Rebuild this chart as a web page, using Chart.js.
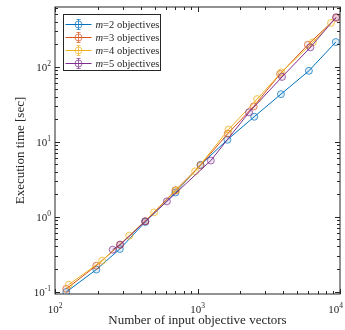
<!DOCTYPE html>
<html>
<head>
<meta charset="utf-8">
<script src="https://cdn.jsdelivr.net/npm/chart.js@4/dist/chart.umd.min.js"></script>
<style>
    body { margin: 0; background: #fff; }
</style>
</head>
<body>
<canvas id="timing" width="345" height="330"></canvas>
<script>
// input sizes and run times, one pair per number of objectives
const xM2 = [120, 195, 285, 430, 700, 1050, 1620, 2500, 3850, 6050, 9350];
const yM2 = [0.099, 0.197, 0.37, 0.85, 2.1, 4.9, 10.6, 21.5, 43, 88, 213];
const xM3 = [120, 195, 285, 430, 700, 1050, 1630, 2480, 3800, 5950, 9400];
const yM3 = [0.109, 0.222, 0.42, 0.87, 2.25, 4.85, 12.8, 29.5, 80, 196, 447];
const xM4 = [125, 214, 332, 496, 708, 962, 1650, 2620, 3880, 6450, 8650];
const yM4 = [0.124, 0.259, 0.558, 1.14, 2.24, 4.02, 14.5, 37, 84, 211, 383];
const xM5 = [254, 287, 430, 610, 1240, 2300, 3920, 6200, 9400];
const yM5 = [0.363, 0.424, 0.866, 1.6, 5.6, 24.6, 73, 181, 457];

const labels = ['m=2 objectives', 'm=3 objectives', 'm=4 objectives', 'm=5 objectives'];
const colors = ['#0072BD', '#D95319', '#EDB120', '#7E2F8E'];
const xTickExp = [2, 3, 4];
const yTickExp = [-1, 0, 1, 2];

const axisColor = '#262626';
const serif = '"Liberation Serif", "DejaVu Serif", serif';

function fade(hex, a) {
    const n = parseInt(hex.slice(1), 16);
    return 'rgba(' + (n >> 16) + ',' + ((n >> 8) & 255) + ',' + (n & 255) + ',' + a + ')';
}

const series = [[xM2, yM2], [xM3, yM3], [xM4, yM4], [xM5, yM5]];

// box, inward ticks on all four sides, 10^n labels
const frame = {
    id: 'frame',
    afterDraw(chart) {
        const {ctx, chartArea: a, scales: {x, y}} = chart;
        ctx.save();
        ctx.strokeStyle = axisColor;
        ctx.lineWidth = 1;
        ctx.strokeRect(a.left, a.top, a.right - a.left, a.bottom - a.top);
        ctx.beginPath();
        for (let e = 1; e <= 4; e++) {
            for (let k = 1; k <= 9; k++) {
                const v = k * Math.pow(10, e);
                if (v < x.min || v > x.max) continue;
                const px = Math.round(x.getPixelForValue(v)) + 0.5;
                const len = k === 1 ? 5 : 3;
                ctx.moveTo(px, a.bottom); ctx.lineTo(px, a.bottom - len);
                ctx.moveTo(px, a.top); ctx.lineTo(px, a.top + len);
            }
        }
        for (let e = -2; e <= 2; e++) {
            for (let k = 1; k <= 9; k++) {
                const v = k * Math.pow(10, e);
                if (v < y.min || v > y.max) continue;
                const py = Math.round(y.getPixelForValue(v)) + 0.5;
                const len = k === 1 ? 5 : 3;
                ctx.moveTo(a.left, py); ctx.lineTo(a.left + len, py);
                ctx.moveTo(a.right, py); ctx.lineTo(a.right - len, py);
            }
        }
        ctx.stroke();

        ctx.fillStyle = axisColor;
        ctx.textBaseline = 'alphabetic';
        const base = '11px ' + serif, sup = '7.5px ' + serif;
        xTickExp.forEach(e => {
            const px = x.getPixelForValue(Math.pow(10, e));
            ctx.font = base; const w1 = ctx.measureText('10').width;
            ctx.font = sup; const w2 = ctx.measureText(String(e)).width;
            // keep the last label inside the canvas
            const left = Math.min(px - (w1 + w2) / 2, chart.width - 2 - w1 - w2);
            ctx.font = base; ctx.textAlign = 'left';
            ctx.fillText('10', left, a.bottom + 19);
            ctx.font = sup;
            ctx.fillText(String(e), left + w1, a.bottom + 14);
        });
        yTickExp.forEach(e => {
            const py = y.getPixelForValue(Math.pow(10, e));
            ctx.font = sup; const w2 = ctx.measureText(String(e)).width;
            const right = a.left - 4;
            ctx.textAlign = 'left';
            ctx.fillText(String(e), right - w2, py - 0.5);
            ctx.font = base; ctx.textAlign = 'right';
            ctx.fillText('10', right - w2, py + 4);
        });
        ctx.restore();
    }
};

// legend in the upper left corner, errorbar style icons
const legendBox = {
    id: 'legendBox',
    afterDraw(chart) {
        const {ctx, chartArea: a} = chart;
        const left = a.left + 8.5, top = a.top + 7.5, w = 97, h = 56;
        ctx.save();
        ctx.fillStyle = '#fff';
        ctx.fillRect(left, top, w, h);
        ctx.strokeStyle = axisColor;
        ctx.lineWidth = 1;
        ctx.strokeRect(left, top, w, h);
        chart.data.datasets.forEach((ds, i) => {
            const cy = Math.round(top + 9 + i * 13) + 0.5;
            const cx = left + 15;
            ctx.strokeStyle = ds.borderColor;
            ctx.lineWidth = 1;
            ctx.beginPath();
            ctx.moveTo(left + 2, cy); ctx.lineTo(left + 28, cy);
            ctx.stroke();
            ctx.strokeStyle = ds.pointBorderColor;
            ctx.beginPath();
            ctx.moveTo(cx, cy - 5); ctx.lineTo(cx, cy + 5);
            ctx.moveTo(cx - 2, cy - 5); ctx.lineTo(cx + 2, cy - 5);
            ctx.moveTo(cx - 2, cy + 5); ctx.lineTo(cx + 2, cy + 5);
            ctx.stroke();
            ctx.beginPath();
            ctx.arc(cx, cy, 3.5, 0, Math.PI * 2);
            ctx.stroke();
            ctx.fillStyle = axisColor;
            ctx.textBaseline = 'middle';
            ctx.textAlign = 'left';
            ctx.font = 'italic 10.5px ' + serif;
            ctx.fillText(ds.label[0], left + 32, cy + 0.5);
            const wm = ctx.measureText(ds.label[0]).width;
            ctx.font = '10.5px ' + serif;
            ctx.fillText(ds.label.slice(1), left + 32 + wm, cy + 0.5);
        });
        ctx.restore();
    }
};

new Chart(document.getElementById('timing'), {
    type: 'line',
    data: {
        datasets: series.map((s, i) => ({
            label: labels[i],
            data: s[0].map((v, j) => ({x: v, y: s[1][j]})),
            borderColor: colors[i],
            borderWidth: 1,
            pointRadius: 3.5,
            pointBorderWidth: 1,
            pointBorderColor: fade(colors[i], 0.7),
            pointBackgroundColor: fade(colors[i], 0.12),
            tension: 0,
            order: 3 - i
        }))
    },
    options: {
        responsive: false,
        animation: false,
        layout: {padding: {top: 7, right: 3, left: 0, bottom: 0}},
        plugins: {legend: {display: false}, tooltip: {enabled: false}},
        scales: {
            x: {
                type: 'logarithmic',
                min: 100,
                max: 10000,
                grid: {display: false},
                border: {display: false},
                ticks: {display: false},
                title: {
                    display: true,
                    text: 'Number of input objective vectors',
                    color: axisColor,
                    font: {family: serif, size: 13},
                    padding: {top: 0, bottom: 2}
                },
                afterFit: s => { s.height = 36; }
            },
            y: {
                type: 'logarithmic',
                min: 0.093,
                max: 625,
                grid: {display: false},
                border: {display: false},
                ticks: {display: false},
                title: {
                    display: true,
                    text: 'Execution time [sec]',
                    color: axisColor,
                    font: {family: serif, size: 13},
                    padding: {top: 13, bottom: 0}
                },
                afterFit: s => { s.width = 55; }
            }
        }
    },
    plugins: [frame, legendBox]
});
</script>
</body>
</html>
